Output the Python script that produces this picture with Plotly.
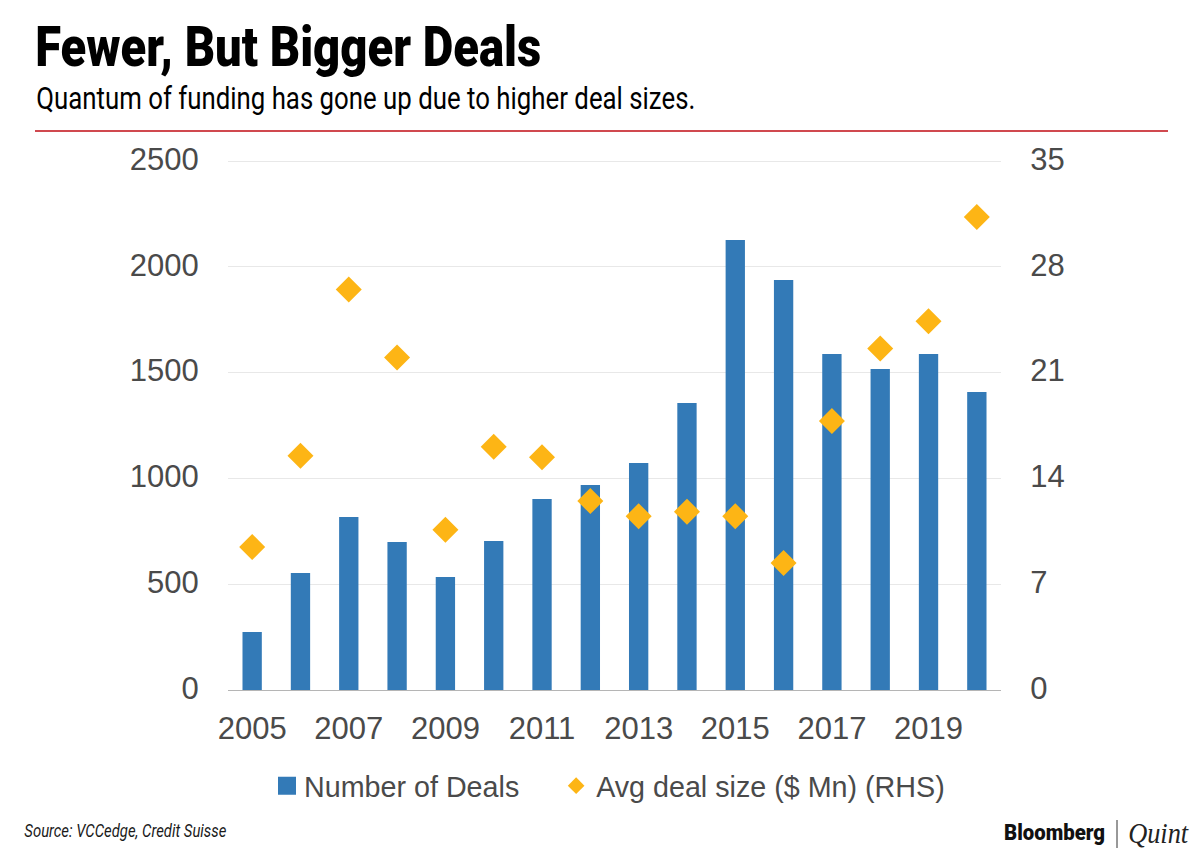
import json

import plotly.graph_objects as go

# Data
years = ['2005', '2006', '2007', '2008', '2009', '2010', '2011', '2012',
         '2013', '2014', '2015', '2016', '2017', '2018', '2019', '2020']
number_of_deals = [274, 553, 818, 700, 534, 704, 903, 969,
                   1073, 1356, 2127, 1938, 1588, 1517, 1588, 1408]
avg_deal_size = [9.46, 15.5, 26.5, 22.0, 10.6, 16.1, 15.4, 12.5,
                 11.5, 11.8, 11.5, 8.4, 17.8, 22.6, 24.4, 31.3]
year_ticks = ['2005', '2007', '2009', '2011', '2013', '2015', '2017', '2019']
left_ticks = [0, 500, 1000, 1500, 2000, 2500]
right_ticks = [0, 7, 14, 21, 28, 35]

# The page keeps its 8px body margin, so the figure starts at (8, 8)
OFFSET = 8
W, H = 1200 - OFFSET, 853 - OFFSET
# Plotly drops a gridline within 1px of the plot edge, so the plot runs 2px above the top tick
PLOT_LEFT, PLOT_RIGHT, PLOT_TOP, PLOT_BOTTOM = 228, 1001, 159, 690
pw = PLOT_RIGHT - PLOT_LEFT
ph = PLOT_BOTTOM - PLOT_TOP
headroom = ph / (ph - 2)


def fx(x):
    return (x - PLOT_LEFT) / pw


def fy(y):
    return (PLOT_BOTTOM - y) / ph


tick_font = dict(family='Liberation Sans', size=31, color='#4a4a4a')
hidden_tick = 'rgba(0,0,0,0)'

fig = go.Figure()
fig.add_trace(go.Bar(x=years, y=number_of_deals, name='Number of Deals\u00a0\u00a0\u00a0\u00a0',
                     marker=dict(color='#337ab7', line=dict(width=0))))
fig.add_trace(go.Scatter(x=years, y=avg_deal_size, name='Avg deal size ($ Mn) (RHS)',
                         mode='markers', yaxis='y2',
                         marker=dict(symbol='diamond', size=20, color='#fdb515')))

fig.update_layout(
    width=W, height=H,
    margin=dict(l=PLOT_LEFT - OFFSET, r=W + OFFSET - PLOT_RIGHT,
                t=PLOT_TOP - OFFSET, b=H + OFFSET - PLOT_BOTTOM, pad=0),
    paper_bgcolor='white', plot_bgcolor='white',
    bargap=0.6,
    showlegend=True,
    legend=dict(orientation='h', x=fx(607), xanchor='center', y=fy(786), yanchor='middle',
                font=dict(family='Liberation Sans', size=28.7, color='#4a4a4a'),
                bgcolor='rgba(0,0,0,0)'),
    xaxis=dict(type='category', tickmode='array', tickvals=year_ticks, ticktext=year_ticks,
               range=[-0.5, 15.5], tickfont=tick_font, showgrid=False, tickangle=0,
               ticks='outside', ticklen=11, tickcolor=hidden_tick,
               showline=True, linecolor='#b5b5b5', linewidth=1),
    yaxis=dict(range=[0, 2500 * headroom], tickvals=left_ticks, tickfont=tick_font,
               showgrid=True, gridcolor='#e8e8e8', gridwidth=1, zeroline=False,
               ticks='outside', ticklen=22, tickcolor=hidden_tick, ticklabelshift=-2),
    yaxis2=dict(range=[0, 35 * headroom], tickvals=right_ticks, overlaying='y', side='right',
                tickfont=tick_font, showgrid=False, zeroline=False,
                ticks='outside', ticklen=22, tickcolor=hidden_tick, ticklabelshift=-2),
    shapes=[
        dict(type='line', xref='paper', yref='paper', x0=fx(35), x1=fx(1168), y0=fy(131), y1=fy(131),
             line=dict(color='#c00d14', width=1.5)),
        dict(type='line', xref='paper', yref='paper', x0=fx(1117), x1=fx(1117), y0=fy(820), y1=fy(848),
             line=dict(color='#333333', width=1)),
    ],
)

# text, centre x, centre y, target width in px, font
labels = [
    ('Fewer, But Bigger Deals', 288, 47, 506, dict(family='Roboto', size=56, color='#000000', weight=900)),
    ('Quantum of funding has gone up due to higher deal sizes.', 365.5, 98, 659,
     dict(family='Roboto', size=32, color='#000000')),
    ('<i>Source: VCCedge, Credit Suisse</i>', 125, 830, 202, dict(family='Roboto', size=18, color='#1a1a1a')),
    ('Bloomberg', 1054.5, 832, 101, dict(family='Roboto', size=22, color='#111111', weight=900)),
    ('<i>Quint</i>', 1158, 832, 60, dict(family='Liberation Serif', size=30, color='#222222')),
]
widths = {}
for text, x, y, width, font in labels:
    fig.add_annotation(text=text, xref='paper', yref='paper', x=fx(x), y=fy(y), xanchor='center',
                       yanchor='middle', showarrow=False, font=font)
    widths[text.replace('<i>', '').replace('</i>', '')] = width

# No condensed font is installed: squeeze the header texts to their width, resize the legend swatches
post_script = """
var widths = %s;
document.querySelectorAll('.annotation-text').forEach(function (t) {
    var w = widths[t.textContent];
    if (w) {
        t.setAttribute('textLength', w);
        t.setAttribute('lengthAdjust', 'spacingAndGlyphs');
    }
});
var entries = document.querySelectorAll('.legend .traces');
var bar = entries[0].querySelector('.legendpoints path');
if (bar) { bar.setAttribute('d', 'M12,9H-6V-9H12Z'); }
var diamond = entries[1].querySelector('.legendpoints path');
if (diamond) { diamond.setAttribute('transform', diamond.getAttribute('transform') + ' scale(0.8)'); }
""" % json.dumps(widths)

fig.write_html('out.html', post_script=post_script)
